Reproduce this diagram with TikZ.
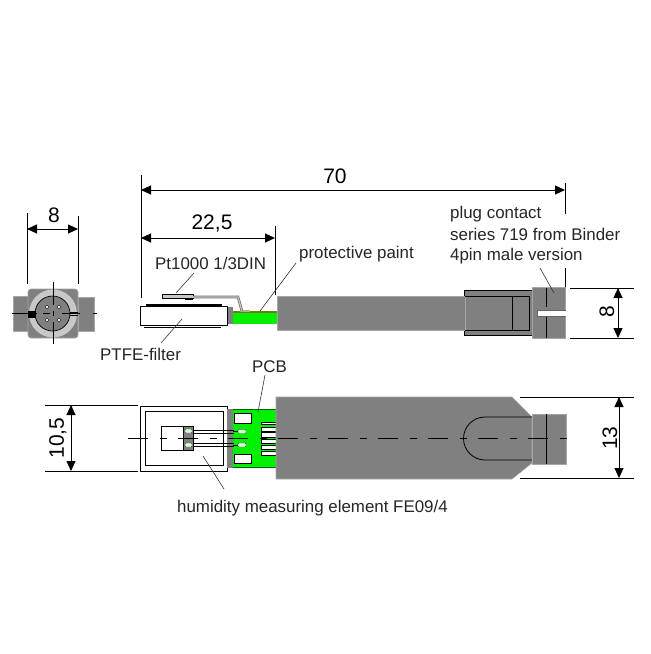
\documentclass[tikz,border=0pt]{standalone}
\usepackage{fontspec}
\setmainfont{Liberation Sans}
\usetikzlibrary{arrows.meta}
\definecolor{bodygray}{HTML}{808080}
\definecolor{lightgray2}{HTML}{C8C8C8}
\definecolor{pcbgreen}{HTML}{00F000}
\definecolor{olive2}{HTML}{6E7F10}
\tikzset{
  dimline/.style={line width=0.9pt,{Triangle[length=10pt,width=9pt]}-{Triangle[length=10pt,width=9pt]}},
  extline/.style={line width=0.8pt},
  leader/.style={line width=0.6pt,draw=black!80},
  txt/.style={font=\fontsize{16.9}{19}\selectfont,inner sep=0pt,anchor=base west,text=black!85},
  dimtxt/.style={font=\fontsize{21}{23}\selectfont,inner sep=0pt},
  graybody/.style={fill=bodygray,draw=bodygray!70!white,line width=0.6pt},
  whitebox/.style={fill=white,draw=black,line width=0.9pt},
  centre/.style={line width=0.8pt,dash pattern=on 20pt off 12pt on 7pt off 11pt},
  padbox/.style={fill=white,draw=black,line width=0.6pt},
  tinypad/.style={fill=white!85!pcbgreen,draw=black!70,line width=0.4pt,rounded corners=1pt},
  wire/.style={line width=0.6pt,draw=black}
}
\begin{document}
\begin{tikzpicture}[x=1pt,y=-1pt]
\useasboundingbox (0,0) rectangle (651,654);
\fill[white] (0,0) rectangle (651,654);

% ===== end view =====
\fill[graybody] (13,296) rectangle (29,331);
\fill[graybody] (78,297) rectangle (94,331);
\draw[graybody,rounded corners=3pt] (28,289) rectangle (78,338);
\fill[lightgray2] (53,313.5) circle (24);
\fill[bodygray,draw=black,line width=0.7pt] (52.5,313.5) circle (17.5);
\fill[black] (28,311) rectangle (36,317.5);
\foreach \px/\py in {47/307,59/307,47/320,59/320}
  \fill[white,draw=black,line width=0.3pt] (\px,\py) circle (1.8);
\draw[line width=0.8pt] (53,282) -- (53,305) (53,311) -- (53,316) (53,322) -- (53,344);
\draw[line width=0.8pt] (12,313.5) -- (37,313.5) (43,313.5) -- (50,313.5) (62,313.5) -- (80,313.5) (93,313.5) -- (97,313.5);
\draw[line width=0.8pt] (70,312) -- (78,312) (70,315) -- (78,315);
\coordinate (e8a) at (27,229); \coordinate (e8b) at (78,229);
\draw[extline] (27,213) -- (27,284) (78,216) -- (78,284);
\draw[dimline] (e8a) -- (e8b);
\node[dimtxt] (t8a) at (54,215) {8};

% ===== side view =====
\draw[extline] (141,175) -- (141,298) (565,183) -- (565,214) (565,268) -- (565,287) (275,226) -- (275,295);
\coordinate (d70a) at (141,190); \coordinate (d70b) at (565,190);
\draw[dimline] (d70a) -- (d70b);
\node[dimtxt] (t70) at (335,176) {70};
\coordinate (d22a) at (141,238); \coordinate (d22b) at (275,238);
\draw[dimline] (d22a) -- (d22b);
\node[dimtxt] (t22) at (212,224) {22,5};

% cable and sleeve
\fill[graybody] (464,290) rectangle (532,335);
\draw[black,line width=0.8pt] (464,290) -- (532,290) (464,335) -- (532,335) (464,290) -- (464,296) (464,330) -- (464,335);
\draw[graybody] (277,296) rectangle (465,330);
\draw[black,line width=0.8pt] (465,296) -- (529,296) -- (529,330) -- (465,330);
\draw[black,line width=0.8pt] (512,296) -- (512,330);
% plug
\fill[graybody] (532,287.5) rectangle (565,338);
\fill[white] (537,310) rectangle (566,316);
\draw[black!60,line width=0.5pt] (566,310) -- (537,310) -- (537,316) -- (566,316);
\draw[black,line width=0.8pt] (546,288) -- (546,307) (546,317) -- (546,338);
% pcb
\fill[pcbgreen] (233,312) rectangle (277,324);
\draw[olive2,line width=1.2pt] (233,312) -- (277,312);
\fill[lightgray2!70!olive2] (240,310) rectangle (250,312);
\fill[bodygray] (227,307) rectangle (233,324);
% filter
\draw[whitebox] (140,306) rectangle (227,325);
\draw[black,line width=1.2pt] (146,305) -- (222,305);
\draw[black,line width=0.8pt] (144,327) -- (221,327);
% Pt1000
\draw[fill=lightgray2,draw=black,line width=0.7pt] (162,294) rectangle (193,298.5);
\draw[black,line width=1.2pt] (185,299) -- (193,299);
\draw[black!60,line width=2.6pt] (193,297) -- (238,297) -- (242,311);
\draw[lightgray2,line width=1.2pt] (193,297) -- (238,297) -- (242,311);
% leaders
\coordinate (lp1) at (194,273); \coordinate (lp2) at (176,293);
\draw[leader] (lp1) -- (lp2);
\coordinate (lq1) at (296,263); \coordinate (lq2) at (260,311);
\draw[leader] (lq1) -- (lq2);
\coordinate (lf1) at (182,319); \coordinate (lf2) at (161,343);
\draw[leader] (lf1) -- (lf2);
\coordinate (lb1) at (540,268); \coordinate (lb2) at (554,293);
\draw[leader] (lb1) -- (lb2);
% dim 8 right
\draw[extline] (570,288) -- (634,288) (570,338) -- (634,338);
\coordinate (d8a) at (618,288); \coordinate (d8b) at (618,338);
\draw[dimline] (d8a) -- (d8b);
\node[dimtxt,rotate=90] (t8b) at (607,312) {8};

% ===== top view =====
\draw[extline] (45,405) -- (138,405) (45,471) -- (138,471);
\coordinate (d10a) at (71,405); \coordinate (d10b) at (71,471);
\draw[dimline] (d10a) -- (d10b);
\node[dimtxt,rotate=90] (t10) at (58,438) {10,5};

\draw[whitebox] (140,406) rectangle (227,471);
\draw[whitebox] (145,411) rectangle (223,465);
\draw[bodygray,fill=bodygray] (227,409) rectangle (233,467);
% PCB
\fill[pcbgreen] (233,409) rectangle (276,467);
\draw[black!60!pcbgreen,line width=0.5pt] (233,409) -- (276,409) (233,467) -- (276,467);
\draw[padbox] (234,413) rectangle (251,423);
\draw[padbox] (234,454) rectangle (251,463);
\foreach \ya/\yb in {422/424.5,427/431,432.5/437,439/443,445/449,451.5/455}
  \draw[padbox] (261,\ya) rectangle (276,\yb);
% element
\draw[whitebox] (161,426) rectangle (183,450);
\fill[bodygray,draw=black,line width=0.7pt] (183,426) rectangle (193,450);
\draw[tinypad] (185,429) rectangle (192,433);
\draw[tinypad] (185,443) rectangle (192,447);
\draw[wire] (193,430.2) -- (234,430.2) (193,432.8) -- (234,432.8);
\draw[wire] (193,443.2) -- (234,443.2) (193,445.8) -- (234,445.8);
\draw[tinypad] (238,429.5) rectangle (246,433.5);
\draw[tinypad] (238,443) rectangle (246,447);
\draw[wire] (233,431.5) -- (238,431.5) (233,445) -- (238,445);
% body
\draw[graybody] (276,397) -- (512,397) -- (532,417) -- (532,463) -- (512,479) -- (276,479) -- cycle;
\draw[black,line width=0.8pt] (532,417) -- (485,417) arc[start angle=-90,end angle=-270,radius=21.5] -- (532,460);
\draw[graybody] (532,414) rectangle (566,464);
\draw[black,line width=0.8pt] (546,414) -- (546,464);
\coordinate (cl1) at (128,438); \coordinate (cl2) at (567,438);
\draw[centre] (cl1) -- (cl2);
% leaders
\coordinate (lh1) at (203,456); \coordinate (lh2) at (224,489);
\draw[leader] (lh1) -- (lh2);
\coordinate (lc1) at (265,375); \coordinate (lc2) at (258,412);
\draw[leader] (lc1) -- (lc2);
% dim 13
\draw[extline] (520,397) -- (634,397) (520,478) -- (634,478);
\coordinate (d13a) at (619,397); \coordinate (d13b) at (619,478);
\draw[dimline] (d13a) -- (d13b);
\node[dimtxt,rotate=90] (t13) at (610,438) {13};

% ===== labels =====
\node[txt] (l1) at (450,218) {plug contact};
\node[txt] (l2) at (450,240) {series 719 from Binder};
\node[txt] (l3) at (450,260) {4pin male version};
\node[txt] (l4) at (155,269) {Pt1000 1/3DIN};
\node[txt] (l5) at (299,258) {protective paint};
\node[txt] (l6) at (100,360) {PTFE-filter};
\node[txt] (l7) at (252,372) {PCB};
\node[txt] (l8) at (177,512) {humidity measuring element FE09/4};
\end{tikzpicture}
\end{document}
